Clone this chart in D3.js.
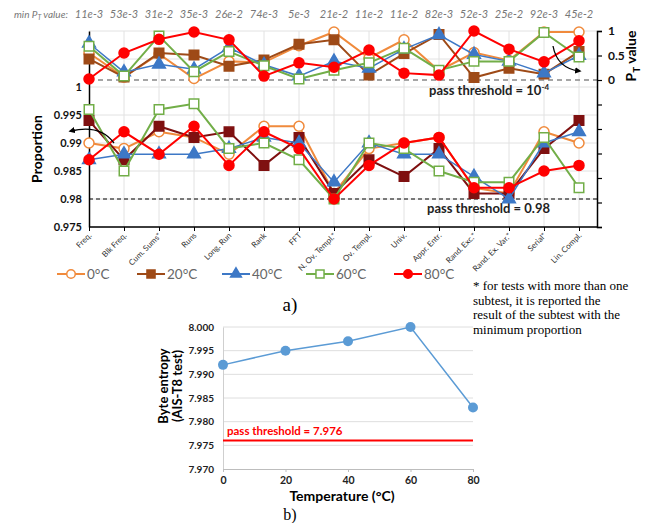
<!DOCTYPE html>
<html>
<head>
<meta charset="utf-8">
<script src="https://cdn.jsdelivr.net/npm/d3@7"></script>
<style>
  body { margin: 0; background: #fff; }
  svg { display: block; font-family: Lato, "Open Sans", sans-serif; }
  .serif { font-family: "Liberation Serif", "DejaVu Serif", serif; }
</style>
</head>
<body>
<div id="chart"></div>
<script>
const width = 651, height = 523;

// tests of the suite (x categories)
const tests = ["Freq.", "Blk Freq.", "Cum. Sums*", "Runs", "Long. Run", "Rank", "FFT",
  "N. Ov. Templ.*", "Ov. Templ.", "Univ.", "Appr. Entr.", "Rand. Exc.*", "Rand. Ex. Var.*",
  "Serial*", "Lin. Compl."];
const minP = ["11e-3", "53e-3", "31e-2", "35e-3", "26e-2", "74e-3", "5e-3", "21e-2",
  "11e-2", "11e-2", "82e-3", "52e-3", "25e-2", "92e-3", "45e-2"];
const temps = ["0°C", "20°C", "40°C", "60°C", "80°C"];

// P_T values (top panel)
const p0 = [0.55, 0.06, 0.53, 0.03, 0.38, 0.36, 0.70, 0.98, 0.45, 0.82, 0.19, 0.56, 0.40, 0.98, 0.98];
const p20 = [0.43, 0.06, 0.55, 0.51, 0.28, 0.41, 0.73, 0.82, 0.10, 0.54, 0.93, 0.05, 0.24, 0.12, 0.58];
const p40 = [0.75, 0.16, 0.32, 0.22, 0.66, 0.31, 0.08, 0.38, 0.24, 0.63, 0.92, 0.52, 0.38, 0.14, 0.50];
const p60 = [0.69, 0.08, 0.90, 0.17, 0.58, 0.29, 0.02, 0.20, 0.35, 0.65, 0.20, 0.38, 0.38, 0.97, 0.47];
const p80 = [0.02, 0.55, 0.83, 0.98, 0.82, 0.08, 0.35, 0.26, 0.61, 0.14, 0.10, 1.00, 0.63, 0.37, 0.80];

// proportions (bottom panel)
const r0 = [0.990, 0.989, 0.992, 0.991, 0.988, 0.993, 0.993, 0.981, 0.989, 0.990, 0.991, 0.982, 0.981, 0.992, 0.990];
const r20 = [0.994, 0.987, 0.993, 0.991, 0.992, 0.986, 0.991, 0.981, 0.987, 0.984, 0.989, 0.981, 0.981, 0.989, 0.994];
const r40 = [0.987, 0.988, 0.988, 0.988, 0.989, 0.991, 0.990, 0.983, 0.990, 0.988, 0.988, 0.984, 0.980, 0.990, 0.992];
const r60 = [0.996, 0.985, 0.996, 0.997, 0.989, 0.990, 0.987, 0.980, 0.990, 0.989, 0.985, 0.983, 0.983, 0.991, 0.982];
const r80 = [0.987, 0.992, 0.988, 0.993, 0.986, 0.992, 0.989, 0.980, 0.986, 0.990, 0.991, 0.982, 0.982, 0.985, 0.986];

// byte entropy (chart b)
const tempB = [0, 20, 40, 60, 80];
const entropy = [7.992, 7.995, 7.997, 8.000, 7.983];

const series = [
  { name: temps[0], p: p0, r: r0, color: "#F08A3C", rColor: "#F08A3C", shape: "circle", open: true, w: 2 },
  { name: temps[1], p: p20, r: r20, color: "#9E4A17", rColor: "#7F1010", shape: "square", open: false, w: 2 },
  { name: temps[2], p: p40, r: r40, color: "#3D78C6", rColor: "#3D78C6", shape: "triangle", open: false, w: 1.5 },
  { name: temps[3], p: p60, r: r60, color: "#72AE48", rColor: "#72AE48", shape: "square", open: true, w: 2 },
  { name: temps[4], p: p80, r: r80, color: "#FF0000", rColor: "#FF0000", shape: "circle", open: false, w: 2 }
];

const svg = d3.select("#chart").append("svg")
  .attr("width", width).attr("height", height)
  .attr("viewBox", [0, 0, width, height]);

const defs = svg.append("defs");
defs.append("marker").attr("id", "arrow")
  .attr("viewBox", "0 0 10 10").attr("refX", 6).attr("refY", 5)
  .attr("markerWidth", 5).attr("markerHeight", 5).attr("orient", "auto")
  .append("path").attr("d", "M0,0L10,5L0,10z").attr("fill", "#000");

// ---- chart a) ----
const x = d3.scalePoint().domain(tests).range([89, 579]);
const yProp = d3.scaleLinear().domain([0.975, 1.01]).range([227, 31]);
const yP = d3.scaleLinear().domain([-3, 1]).range([227, 31]);

// grid
const grid = svg.append("g").attr("stroke", "#e2e2e2").attr("stroke-width", 1);
grid.selectAll("line.h").data(d3.range(0.975, 1.0101, 0.005)).join("line")
  .attr("x1", 89).attr("x2", 597).attr("y1", d => yProp(d)).attr("y2", d => yProp(d));
grid.selectAll("line.v").data(tests.slice(1)).join("line")
  .attr("x1", d => x(d)).attr("x2", d => x(d)).attr("y1", 31).attr("y2", 227);

// threshold lines
svg.append("line").attr("x1", 89).attr("x2", 597).attr("y1", yP(0)).attr("y2", yP(0))
  .attr("stroke", "#888").attr("stroke-width", 1.5).attr("stroke-dasharray", "5,4");
svg.append("line").attr("x1", 89).attr("x2", 597).attr("y1", yProp(0.98)).attr("y2", yProp(0.98))
  .attr("stroke", "#000").attr("stroke-width", 1).attr("stroke-dasharray", "4,3");

// axes
const leftAxis = svg.append("g").attr("transform", "translate(89,0)")
  .call(d3.axisLeft(yProp).tickValues([0.975, 0.98, 0.985, 0.99, 0.995, 1])
    .tickFormat(d => String(+d.toFixed(3))).tickSize(0).tickPadding(7));
leftAxis.select(".domain").attr("stroke", "#000").attr("stroke-width", 1.5);
leftAxis.selectAll("text").attr("font-size", 11).attr("font-weight", "bold").attr("fill", "#111")
  .attr("font-family", "Lato, sans-serif");

const rightAxis = svg.append("g").attr("transform", "translate(597,0)")
  .call(d3.axisRight(yP).tickValues(d3.range(-3, 1.01, 0.5))
    .tickFormat(d => d >= 0 ? String(d) : "").tickSize(5).tickPadding(6));
rightAxis.select(".domain").attr("stroke", "#000").attr("stroke-width", 1.5);
rightAxis.selectAll("line").attr("stroke", "#000").attr("stroke-width", 1.2);
rightAxis.selectAll("text").attr("font-size", 12).attr("font-weight", "bold").attr("fill", "#111")
  .attr("font-family", "Lato, sans-serif");

const bottomAxis = svg.append("g").attr("transform", "translate(0,227)")
  .call(d3.axisBottom(x).tickSize(4).tickFormat(""));
bottomAxis.select(".domain").attr("d", "M89,0H597").attr("stroke", "#000").attr("stroke-width", 1.5);
bottomAxis.selectAll("line").attr("stroke", "#000");

// rotated category labels
svg.append("g").selectAll("text").data(tests).join("text")
  .attr("transform", d => `translate(${x(d) + 3},${236}) rotate(-45)`)
  .attr("text-anchor", "end").attr("font-size", 8).attr("fill", "#333")
  .text(d => d);

// header min P_T value
const head = svg.append("text").attr("x", 14).attr("y", 18).attr("font-size", 10)
  .attr("font-style", "italic").attr("fill", "#777");
head.append("tspan").text("min P");
head.append("tspan").attr("font-size", 7).attr("dy", 2).text("T");
head.append("tspan").attr("dy", -2).text(" value:");
svg.append("g").selectAll("text").data(minP).join("text")
  .attr("x", (d, i) => x(tests[i])).attr("y", 18).attr("text-anchor", "middle")
  .attr("font-size", 11).attr("font-style", "italic").attr("fill", "#777")
  .text(d => d);

// axis titles
svg.append("text").attr("transform", "translate(42,149) rotate(-90)")
  .attr("text-anchor", "middle").attr("font-size", 14).attr("font-weight", "bold")
  .text("Proportion");
const pt = svg.append("text").attr("transform", "translate(636,56) rotate(-90)")
  .attr("text-anchor", "middle").attr("font-size", 14).attr("font-weight", "bold");
pt.append("tspan").text("P");
pt.append("tspan").attr("font-size", 10).attr("dy", 4).text("T");
pt.append("tspan").attr("dy", -4).text(" value");

// threshold labels
const t1 = svg.append("text").attr("x", 429).attr("y", 95).attr("font-size", 13)
  .attr("font-weight", "bold").attr("fill", "#222");
t1.append("tspan").text("pass threshold = 10");
t1.append("tspan").attr("font-size", 8).attr("dy", -5).text("-4");
svg.append("text").attr("x", 427).attr("y", 213).attr("font-size", 13)
  .attr("font-weight", "bold").attr("fill", "#222").text("pass threshold = 0.98");

function drawMarker(sel, s, color, scale) {
  const k = scale || 1;
  if (s.shape === "circle") {
    sel.append("circle").attr("r", 5 * k)
      .attr("fill", s.open ? "#fff" : color).attr("stroke", color).attr("stroke-width", 1.5);
  } else {
    const type = s.shape === "square" ? d3.symbolSquare : d3.symbolTriangle;
    const size = s.shape === "square" ? 90 : 70;
    sel.append("path").attr("d", d3.symbol().type(type).size(size * k * k)())
      .attr("fill", s.open ? "#fff" : color).attr("stroke", color).attr("stroke-width", 1.5);
  }
}

function drawPanel(key, yScale, colorKey) {
  series.forEach(s => {
    const color = s[colorKey];
    const vals = s[key];
    svg.append("path").datum(vals)
      .attr("fill", "none").attr("stroke", color).attr("stroke-width", s.w)
      .attr("d", d3.line().x((d, i) => x(tests[i])).y(d => yScale(d)));
    svg.append("g").selectAll("g").data(vals).join("g")
      .attr("transform", (d, i) => `translate(${x(tests[i])},${yScale(d)})`)
      .each(function () { drawMarker(d3.select(this), s, color); });
  });
}
drawPanel("p", yP, "color");
drawPanel("r", yProp, "rColor");

// arrows
svg.append("path").attr("d", "M114,143 Q100,124 71,131")
  .attr("fill", "none").attr("stroke", "#000").attr("stroke-width", 1.3).attr("marker-end", "url(#arrow)");
svg.append("path").attr("d", "M553,46 Q557,68 579,71")
  .attr("fill", "none").attr("stroke", "#000").attr("stroke-width", 1.3).attr("marker-end", "url(#arrow)");

// legend
const legX = [57, 137, 222, 306, 394];
const leg = svg.append("g").selectAll("g").data(series).join("g")
  .attr("transform", (d, i) => `translate(${legX[i]},274)`);
leg.append("line").attr("x1", 0).attr("x2", 28).attr("stroke", d => d.color).attr("stroke-width", 2);
leg.append("g").attr("transform", "translate(14,0)")
  .each(function (d) { drawMarker(d3.select(this), d, d.color, 0.85); });
leg.append("text").attr("x", 30).attr("y", 5).attr("font-size", 13.5).attr("fill", "#666")
  .text(d => d.name);

svg.append("text").attr("class", "serif").attr("x", 290).attr("y", 311)
  .attr("text-anchor", "middle").attr("font-size", 19).text("a)");

const note = ["* for tests with more than one", "subtest, it is reported the",
  "result of the subtest with the", "minimum proportion"];
svg.append("g").selectAll("text").data(note).join("text").attr("class", "serif")
  .attr("x", 473).attr("y", (d, i) => 290 + i * 14.5).attr("font-size", 13)
  .text(d => d);

// ---- chart b) ----
const xB = d3.scaleLinear().domain([0, 80]).range([223, 473]);
const yB = d3.scaleLinear().domain([7.970, 8.000]).range([469, 327]);

svg.append("g").attr("stroke", "#dedede").selectAll("line")
  .data([7.975, 7.980, 7.985, 7.990, 7.995, 8.000]).join("line")
  .attr("x1", 223).attr("x2", 473).attr("y1", d => yB(d)).attr("y2", d => yB(d));

const yAxisB = svg.append("g").attr("transform", "translate(223,0)")
  .call(d3.axisLeft(yB).tickValues([7.970, 7.975, 7.980, 7.985, 7.990, 7.995, 8.000])
    .tickFormat(d3.format(".3f")).tickSize(0).tickPadding(9));
yAxisB.select(".domain").attr("stroke", "#cfcfcf");
yAxisB.selectAll("text").attr("font-size", 10).attr("font-weight", "bold").attr("fill", "#222")
  .attr("font-family", "Lato, sans-serif");

const xAxisB = svg.append("g").attr("transform", "translate(0,469)")
  .call(d3.axisBottom(xB).tickValues(tempB).tickSize(3).tickPadding(5));
xAxisB.select(".domain").attr("stroke", "#bdbdbd");
xAxisB.selectAll("line").attr("stroke", "#bdbdbd");
xAxisB.selectAll("text").attr("font-size", 10.5).attr("font-weight", "bold").attr("fill", "#222")
  .attr("font-family", "Lato, sans-serif");

svg.append("line").attr("x1", 223).attr("x2", 473).attr("y1", yB(7.976)).attr("y2", yB(7.976))
  .attr("stroke", "#FF0000").attr("stroke-width", 2);
svg.append("text").attr("x", 227).attr("y", 435).attr("font-size", 11.5).attr("font-weight", "bold")
  .attr("fill", "#FF0000").text("pass threshold = 7.976");

svg.append("path").datum(entropy).attr("fill", "none").attr("stroke", "#5B9BD5").attr("stroke-width", 1.5)
  .attr("d", d3.line().x((d, i) => xB(tempB[i])).y(d => yB(d)));
svg.append("g").selectAll("circle").data(entropy).join("circle")
  .attr("cx", (d, i) => xB(tempB[i])).attr("cy", d => yB(d)).attr("r", 5)
  .attr("fill", "#5B9BD5");

svg.append("text").attr("x", 342).attr("y", 501).attr("text-anchor", "middle")
  .attr("font-size", 14).attr("font-weight", "bold").text("Temperature (°C)");
const yt = svg.append("text").attr("transform", "translate(168,386) rotate(-90)")
  .attr("text-anchor", "middle").attr("font-size", 13).attr("font-weight", "bold");
yt.append("tspan").attr("x", 0).attr("dy", 0).text("Byte entropy");
yt.append("tspan").attr("x", 0).attr("dy", 14).text("(AIS-T8 test)");

svg.append("text").attr("class", "serif").attr("x", 290).attr("y", 520)
  .attr("text-anchor", "middle").attr("font-size", 16).text("b)");
</script>
</body>
</html>
